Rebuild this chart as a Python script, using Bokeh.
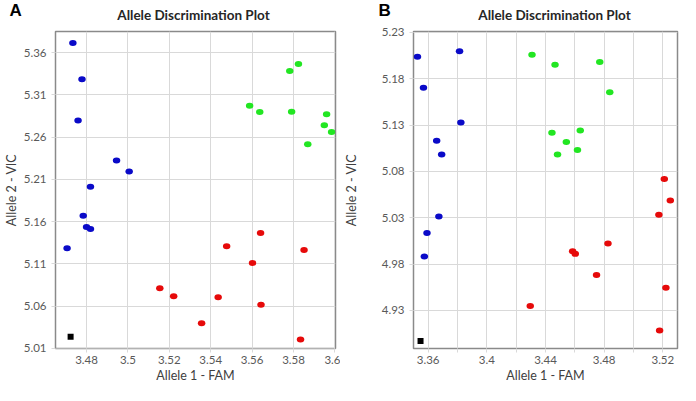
from bokeh.plotting import figure
from bokeh.layouts import row, column
from bokeh.models import FixedTicker, Label
from bokeh.embed import file_html
from bokeh.resources import INLINE

# ---------------- Panel A data ----------------
a_blue_x = [3.4734, 3.4778, 3.4759, 3.4945, 3.5006, 3.4819, 3.4784, 3.4800, 3.4819, 3.4706]
a_blue_y = [5.3713, 5.3284, 5.2798, 5.2324, 5.2192, 5.2012, 5.1668, 5.1536, 5.1513, 5.1284]
a_green_x = [3.5588, 3.5637, 3.5782, 3.5824, 3.5791, 3.5960, 3.5949, 3.5984, 3.5869]
a_green_y = [5.2971, 5.2897, 5.3382, 5.3465, 5.2900, 5.2870, 5.2739, 5.2660, 5.2516]
a_red_x = [3.5641, 3.5477, 3.5851, 3.5602, 3.5154, 3.5221, 3.5436, 3.5643, 3.5356, 3.5834]
a_red_y = [5.1465, 5.1307, 5.1265, 5.1111, 5.0810, 5.0717, 5.0705, 5.0615, 5.0397, 5.0205]
a_ntc_x = [3.4723]
a_ntc_y = [5.0236]

a_xticks = [3.48, 3.50, 3.52, 3.54, 3.56, 3.58, 3.60]
a_xlabels = ["3.48", "3.5", "3.52", "3.54", "3.56", "3.58", "3.6"]
a_yticks = [5.01, 5.06, 5.11, 5.16, 5.21, 5.26, 5.31, 5.36]
a_ylabels = ["5.01", "5.06", "5.11", "5.16", "5.21", "5.26", "5.31", "5.36"]

# ---------------- Panel B data ----------------
b_blue_x = [3.3527, 3.3814, 3.3568, 3.3823, 3.3658, 3.3692, 3.3673, 3.3592, 3.3574]
b_blue_y = [5.2038, 5.2096, 5.1703, 5.1327, 5.1131, 5.0983, 5.0314, 5.0135, 4.9883]
b_green_x = [3.4308, 3.4465, 3.4770, 3.4838, 3.4444, 3.4637, 3.4542, 3.4482, 3.4618]
b_green_y = [5.2059, 5.1951, 5.1982, 5.1655, 5.1217, 5.1242, 5.1118, 5.0983, 5.1031]
b_red_x = [3.5210, 3.5251, 3.5173, 3.4826, 3.4585, 3.4603, 3.4748, 3.5221, 3.4296, 3.5178]
b_red_y = [5.0720, 5.0487, 5.0332, 5.0022, 4.9939, 4.9911, 4.9683, 4.9546, 4.9349, 4.9084]
b_ntc_x = [3.3548]
b_ntc_y = [4.8970]

b_xticks = [3.36, 3.38, 3.40, 3.42, 3.44, 3.46, 3.48, 3.50, 3.52]
b_xlabels = ["3.36", "", "3.4", "", "3.44", "", "3.48", "", "3.52"]
b_yticks = [4.93, 4.98, 5.03, 5.08, 5.13, 5.18, 5.23]
b_ylabels = ["4.93", "4.98", "5.03", "5.08", "5.13", "5.18", "5.23"]

panel_letters = ["A", "B"]
panel_title = "Allele Discrimination Plot"
x_title = "Allele 1 - FAM"
y_title = "Allele 2 - VIC"

BLUE = "#0a0ac8"
GREEN = "#22e622"
RED = "#e60a0a"
FONT = "Lato"

W = 340
HEAD = 24
H = 385 - HEAD
TOP = 7
BOTTOM = 37

# ---------------- header strip (panel letters and titles) ----------------
head = figure(width=2 * W, height=HEAD, x_range=(0, 1), y_range=(0, 1),
              output_backend="svg", toolbar_location=None,
              x_axis_location=None, y_axis_location=None,
              min_border=0, outline_line_color=None)
head.grid.visible = False
for letter, lx, tx in [(panel_letters[0], 9, 193), (panel_letters[1], 378, 554)]:
    head.add_layout(Label(x=lx, y=14.5, x_units="screen", y_units="screen", text=letter,
                          text_font="Liberation Sans", text_font_style="bold",
                          text_font_size="17px", text_baseline="middle",
                          text_color="black"))
    head.add_layout(Label(x=tx, y=9.5, x_units="screen", y_units="screen",
                          text=panel_title, text_font=FONT, text_font_style="bold",
                          text_font_size="13.5px", text_align="center",
                          text_baseline="middle", text_color="#262626"))


def make_panel(xr, yr, xt, xl, yt, yl, series, ntc, ml, mr, ylab_standoff):
    p = figure(width=W, height=H, x_range=xr, y_range=yr,
               output_backend="svg", toolbar_location=None,
               min_border_left=ml, min_border_right=mr,
               min_border_top=TOP, min_border_bottom=BOTTOM)

    p.outline_line_color = "#8a8a8a"
    p.outline_line_width = 1.5
    p.background_fill_color = "white"
    p.border_fill_color = "white"

    p.xaxis.ticker = FixedTicker(ticks=xt)
    p.xaxis.major_label_overrides = dict(zip(xt, xl))
    p.yaxis.ticker = FixedTicker(ticks=yt)
    p.yaxis.major_label_overrides = dict(zip(yt, yl))
    p.xgrid.ticker = FixedTicker(ticks=xt)
    p.ygrid.ticker = FixedTicker(ticks=yt)
    p.grid.grid_line_color = "#d9d9d9"
    p.grid.grid_line_width = 1

    p.xaxis.axis_label = x_title
    p.yaxis.axis_label = y_title
    for ax in (p.xaxis[0], p.yaxis[0]):
        ax.axis_line_color = None
        ax.major_tick_line_color = "#d9d9d9"
        ax.major_tick_out = 4
        ax.major_tick_in = 0
        ax.minor_tick_line_color = None
        ax.major_label_text_font = FONT
        ax.major_label_text_font_size = "11.5px"
        ax.major_label_text_color = "#595959"
        ax.axis_label_text_font = FONT
        ax.axis_label_text_font_size = "12.5px"
        ax.axis_label_text_font_style = "normal"
        ax.axis_label_text_color = "#404040"
    p.xaxis.major_label_standoff = 3
    p.yaxis.major_label_standoff = 5
    p.xaxis.axis_label_standoff = 1
    p.yaxis.axis_label_standoff = ylab_standoff

    for (xs, ys, c) in series:
        p.ellipse(x=xs, y=ys, width=7.5, height=6, width_units="screen",
                  height_units="screen", fill_color=c, line_color=None)
    p.scatter(x=ntc[0], y=ntc[1], marker="square", size=6, fill_color="black",
              line_color=None)
    return p


pA = make_panel((3.465, 3.6003), (5.0098, 5.385), a_xticks, a_xlabels, a_yticks, a_ylabels,
                [(a_blue_x, a_blue_y, BLUE), (a_green_x, a_green_y, GREEN), (a_red_x, a_red_y, RED)],
                (a_ntc_x, a_ntc_y), 45, 5, 2)
pB = make_panel((3.35, 3.53), (4.889, 5.231), b_xticks, b_xlabels, b_yticks, b_ylabels,
                [(b_blue_x, b_blue_y, BLUE), (b_green_x, b_green_y, GREEN), (b_red_x, b_red_y, RED)],
                (b_ntc_x, b_ntc_y), 65, 3, 20)

layout = column(head, row(pA, pB))
open("out.html", "w").write(file_html(layout, INLINE))
